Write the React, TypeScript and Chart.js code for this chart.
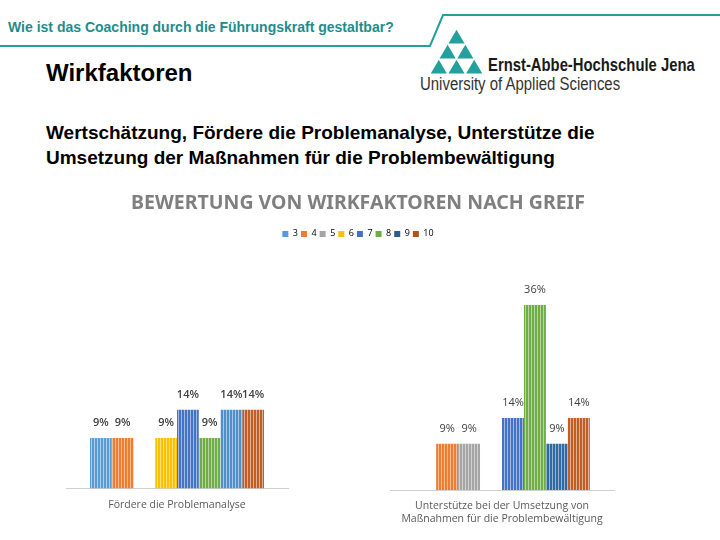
import React, { useEffect, useRef } from "react";
import { Chart, registerables } from "chart.js";

Chart.register(...registerables);

// ---- data ----
const seriesNames = ["3", "4", "5", "6", "7", "8", "9", "10"];
const leftCategory = ["Fördere die Problemanalyse"];
const rightCategory = [["Unterstütze bei der Umsetzung von", "Maßnahmen für die Problembewältigung"]];
const leftValues: (number | null)[] = [9, 9, null, 9, 14, 9, 14, 14];
const rightValues: (number | null)[] = [null, 9, 9, null, 14, 36, 9, 14];
const chartTitle = "BEWERTUNG VON WIRKFAKTOREN NACH GREIF";

// ---- styles ----
const legendColors = ["#5B9BD5", "#ED7D31", "#A5A5A5", "#FFC000", "#4472C4", "#70AD47", "#255E91", "#B4521B"];
const leftColors = ["#5B9BD5", "#ED7D31", "#A5A5A5", "#FFC000", "#4472C4", "#70AD47", "#4F8FCC", "#C25E25"];
const rightColors = ["#5B9BD5", "#ED7D31", "#A5A5A5", "#FFC000", "#4472C4", "#70AD47", "#2E69A3", "#C25E25"];
const Y_MAX = 42.5;
const FONT = "'Open Sans', 'Liberation Sans', sans-serif";
const TITLE_FONT = "'Noto Sans', 'DejaVu Sans', sans-serif";

function makePattern(color: string): CanvasPattern | string {
  const c = document.createElement("canvas");
  c.width = 3;
  c.height = 8;
  const ctx = c.getContext("2d");
  if (!ctx) return color;
  ctx.fillStyle = color;
  ctx.fillRect(0, 0, 3, 8);
  ctx.fillStyle = "rgba(255,255,255,0.5)";
  ctx.fillRect(2, 0, 1, 8);
  const p = ctx.createPattern(c, "repeat");
  return p || color;
}

function labelPlugin(weight: string) {
  return {
    id: "valueLabels",
    afterDatasetsDraw(chart: any) {
      const ctx = chart.ctx;
      ctx.save();
      ctx.font = `${weight} 11px ${FONT}`;
      ctx.fillStyle = "#404040";
      ctx.textAlign = "center";
      ctx.textBaseline = "middle";
      chart.data.datasets.forEach((ds: any, di: number) => {
        const meta = chart.getDatasetMeta(di);
        meta.data.forEach((el: any, i: number) => {
          const v = ds.data[i];
          if (v === null || v === undefined) return;
          ctx.fillText(`${v}%`, el.x, el.y - 15);
        });
      });
      ctx.restore();
    },
  };
}

function buildDatasets(values: (number | null)[], colors: string[]) {
  return seriesNames.map((name, i) => ({
    label: name,
    data: [values[i]],
    backgroundColor: makePattern(colors[i]),
    borderWidth: 0,
    categoryPercentage: 0.784,
    barPercentage: 1,
  }));
}

function xScale() {
  return {
    grid: { display: false, drawTicks: false },
    border: { color: "#D0D0D0", width: 1 },
    ticks: { color: "#595959", font: { family: FONT, size: 10.5 }, padding: 10 },
  };
}

// Title + legend of the chart (same series as the bar charts)
function HeaderChart() {
  const ref = useRef<HTMLCanvasElement>(null);
  useEffect(() => {
    if (!ref.current) return;
    const chart = new Chart(ref.current, {
      type: "bar",
      data: {
        labels: [""],
        datasets: seriesNames.map((n, i) => ({ label: n, data: [null], backgroundColor: legendColors[i] })) as any,
      },
      options: {
        responsive: false,
        animation: false,
        layout: { padding: 0 },
        plugins: {
          title: {
            display: true,
            text: chartTitle,
            color: "#7F7F7F",
            font: { family: TITLE_FONT, size: 19.5, weight: "bold" },
            padding: { top: 7, bottom: 11 },
          },
          legend: {
            display: true,
            labels: {
              boxWidth: 6,
              boxHeight: 6,
              padding: 3,
              color: "#595959",
              font: { family: FONT, size: 9 },
              generateLabels: () =>
                seriesNames.map((n, i) => ({
                  text: n,
                  fillStyle: legendColors[i],
                  strokeStyle: legendColors[i],
                  lineWidth: 0,
                  hidden: false,
                  datasetIndex: i,
                })),
            },
          },
          tooltip: { enabled: false },
        },
        scales: { x: { display: false }, y: { display: false } },
      },
    });
    return () => chart.destroy();
  }, []);
  return (
    <canvas
      ref={ref}
      width={600}
      height={68}
      style={{ position: "absolute", left: 58, top: 185, width: 600, height: 68 }}
    />
  );
}

function BarGroup(props: {
  labels: any[];
  values: (number | null)[];
  colors: string[];
  weight: string;
  padding: any;
  left: number;
  top: number;
  width: number;
  height: number;
}) {
  const ref = useRef<HTMLCanvasElement>(null);
  useEffect(() => {
    if (!ref.current) return;
    const chart = new Chart(ref.current, {
      type: "bar",
      data: { labels: props.labels, datasets: buildDatasets(props.values, props.colors) as any },
      options: {
        responsive: false,
        animation: false,
        layout: { padding: props.padding },
        plugins: { legend: { display: false }, title: { display: false }, tooltip: { enabled: false } },
        scales: {
          x: xScale() as any,
          y: { display: false, min: 0, max: Y_MAX },
        },
      },
      plugins: [labelPlugin(props.weight)],
    });
    return () => chart.destroy();
  }, []);
  return (
    <canvas
      ref={ref}
      width={props.width}
      height={props.height}
      style={{ position: "absolute", left: props.left, top: props.top, width: props.width, height: props.height }}
    />
  );
}

const TEAL = "#23A09C";

function Logo() {
  const ax = 456.5;
  const top = 29;
  const h = 15;
  const w = 17.7;
  const tris: string[] = [];
  for (let r = 0; r < 3; r++) {
    for (let k = 0; k <= r; k++) {
      const cx = ax - (r * w) / 2 + k * w;
      const y0 = top + r * h;
      const g = 0.8;
      tris.push(`${cx},${y0 + g} ${cx - w / 2 + g},${y0 + h - g * 0.5} ${cx + w / 2 - g},${y0 + h - g * 0.5}`);
    }
  }
  return (
    <svg width={720} height={100} style={{ position: "absolute", left: 0, top: 0 }}>
      <polyline points="0,46 430,46 443,15 720,15" fill="none" stroke={TEAL} strokeWidth={2} />
      {tris.map((p, i) => (
        <polygon key={i} points={p} fill={TEAL} />
      ))}
    </svg>
  );
}

export default function App() {
  return (
    <div
      style={{
        position: "fixed",
        left: 0,
        top: 0,
        width: 720,
        height: 540,
        background: "#fff",
        overflow: "hidden",
        fontFamily: "'Liberation Sans', Arial, sans-serif",
      }}
    >
      <Logo />
      <div style={{ position: "absolute", left: 8, top: 19, fontSize: 14, fontWeight: "bold", color: "#1F8C8C", whiteSpace: "nowrap" }}>
        Wie ist das Coaching durch die Führungskraft gestaltbar?
      </div>
      <div
        style={{
          position: "absolute",
          left: 488,
          top: 54,
          fontSize: 19,
          fontWeight: "bold",
          color: "#1a1a1a",
          whiteSpace: "nowrap",
          transform: "scaleX(0.78)",
          transformOrigin: "0 0",
        }}
      >
        Ernst-Abbe-Hochschule Jena
      </div>
      <div
        style={{
          position: "absolute",
          left: 420,
          top: 74,
          fontSize: 18,
          color: "#333",
          whiteSpace: "nowrap",
          transform: "scaleX(0.83)",
          transformOrigin: "0 0",
        }}
      >
        University of Applied Sciences
      </div>
      <div style={{ position: "absolute", left: 46, top: 59, fontSize: 24, fontWeight: "bold", color: "#000", whiteSpace: "nowrap" }}>
        Wirkfaktoren
      </div>
      <div
        style={{
          position: "absolute",
          left: 46,
          top: 120,
          fontSize: 19,
          fontWeight: "bold",
          lineHeight: "25px",
          color: "#000",
          whiteSpace: "nowrap",
        }}
      >
        Wertschätzung, Fördere die Problemanalyse, Unterstütze die
        <br />
        Umsetzung der Maßnahmen für die Problembewältigung
      </div>
      <HeaderChart />
      <BarGroup
        labels={leftCategory}
        values={leftValues}
        colors={leftColors}
        weight="600"
        padding={{ left: 10, right: 8, top: 0, bottom: 0 }}
        left={56}
        top={250}
        width={240}
        height={271}
      />
      <BarGroup
        labels={rightCategory}
        values={rightValues}
        colors={rightColors}
        weight="normal"
        padding={{ left: 8, right: 8, top: 11.5, bottom: 4.8 }}
        left={382}
        top={260}
        width={240}
        height={280}
      />
    </div>
  );
}
